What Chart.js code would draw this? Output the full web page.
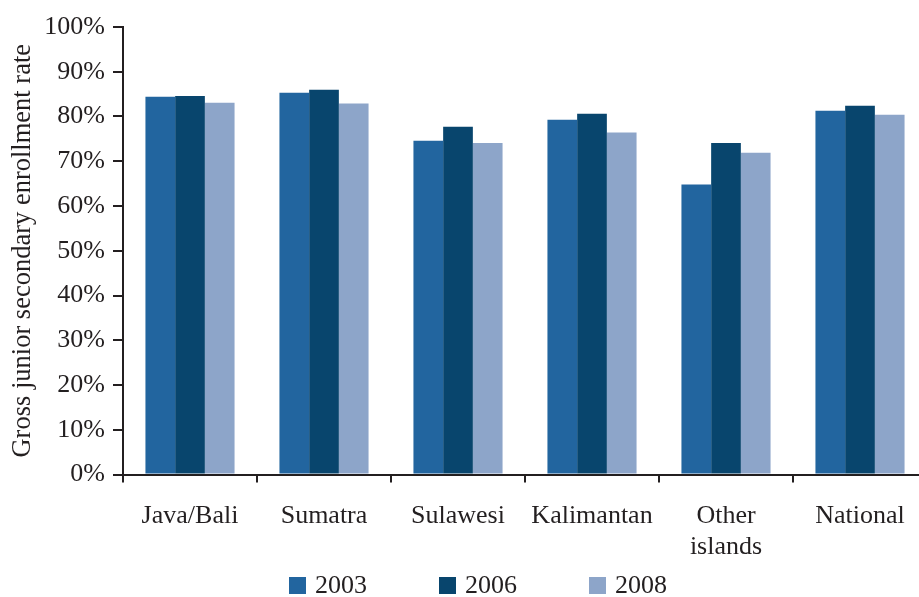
<!DOCTYPE html>
<html>
<head>
<meta charset="utf-8">
<script src="https://cdn.jsdelivr.net/npm/chart.js@4/dist/chart.umd.min.js"></script>
<style>
  html, body { margin: 0; padding: 0; background: #fff; overflow: hidden; }
  #wrap { position: relative; width: 927px; height: 597px; }
  #legend {
    position: absolute; left: 289px; top: 570px;
    display: flex; gap: 0; font: 26px "Liberation Serif", "Times New Roman", serif; color: #231f20;
  }
  #legend .item { display: flex; align-items: center; width: 150px; }
  #legend .box { width: 17px; height: 17px; margin-right: 9px; }
</style>
</head>
<body>
<div id="wrap">
  <canvas id="chart" width="927" height="597"></canvas>
  <div id="legend"></div>
</div>
<script>
// Gross junior secondary enrollment rate by region (%)
const regions = ['Java/Bali', 'Sumatra', 'Sulawesi', 'Kalimantan', ['Other', 'islands'], 'National'];
const years = ['2003', '2006', '2008'];
const rate2003 = [84.4, 85.3, 74.6, 79.3, 64.8, 81.3];
const rate2006 = [84.6, 86.0, 77.7, 80.6, 74.1, 82.4];
const rate2008 = [83.1, 82.9, 74.1, 76.4, 71.9, 80.4];
const colors = ['#22659f', '#08456d', '#8da5c9'];

const ink = '#231f20';
const serif = '"Liberation Serif", "Times New Roman", serif';

const chart = new Chart(document.getElementById('chart'), {
  type: 'bar',
  data: {
    labels: regions,
    datasets: [rate2003, rate2006, rate2008].map((d, i) => ({
      label: years[i],
      data: d,
      backgroundColor: colors[i],
      borderWidth: 0,
      categoryPercentage: 0.665,
      barPercentage: 1
    }))
  },
  options: {
    responsive: false,
    animation: false,
    layout: { padding: { top: 27, right: 0, bottom: 0, left: 0 } },
    plugins: { legend: { display: false }, tooltip: { enabled: false } },
    scales: {
      x: {
        grid: { drawOnChartArea: false, drawTicks: true, tickLength: 8, color: ink, lineWidth: 2, offset: true },
        border: { display: true, color: ink, width: 2 },
        ticks: { color: ink, font: { family: serif, size: 26 }, padding: 18, maxRotation: 0, autoSkip: false },
        afterFit: s => { s.height = 122.5; }
      },
      y: {
        min: 0, max: 100,
        grid: { drawOnChartArea: false, drawTicks: true, tickLength: 10, color: ink, lineWidth: 2 },
        border: { display: true, color: ink, width: 2 },
        ticks: { stepSize: 10, color: ink, padding: 8, font: { family: serif, size: 26 }, callback: v => v + '%' },
        title: {
          display: true,
          text: 'Gross junior secondary enrollment rate',
          color: ink,
          font: { family: serif, size: 26.5 },
          padding: { top: 7, bottom: 0 }
        },
        afterFit: s => { s.width = 123; }
      }
    }
  }
});

// legend built from the chart's datasets
const legend = document.getElementById('legend');
chart.data.datasets.forEach(ds => {
  const item = document.createElement('div');
  item.className = 'item';
  item.innerHTML = `<span class="box" style="background:${ds.backgroundColor}"></span><span>${ds.label}</span>`;
  legend.appendChild(item);
});
</script>
</body>
</html>
